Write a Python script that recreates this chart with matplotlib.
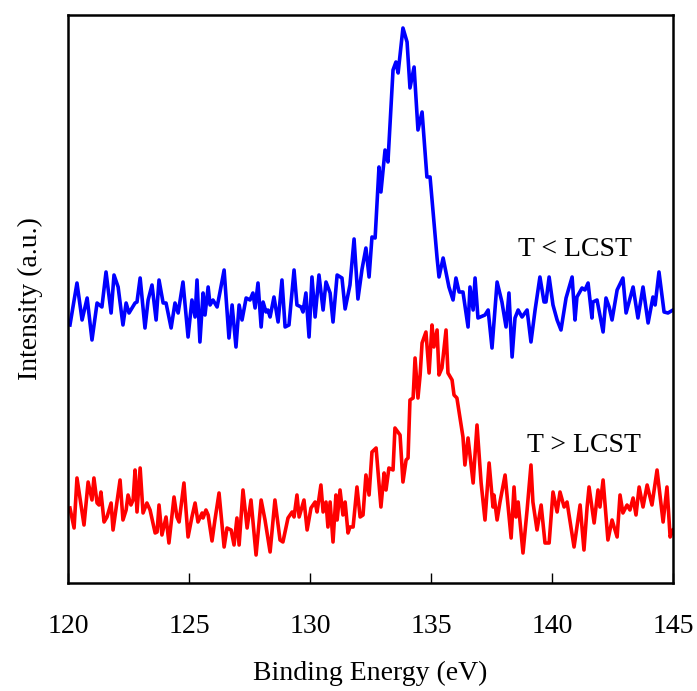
import numpy as np
import matplotlib
matplotlib.use('Agg')
import matplotlib.pyplot as plt

# T < LCST spectrum (blue)
be_low = [120.08, 120.37, 120.58, 120.79, 120.99, 121.20, 121.40, 121.57, 121.78, 121.90,
          122.07, 122.27, 122.40, 122.52, 122.77, 122.85, 122.98, 123.18, 123.31, 123.47,
          123.64, 123.76, 123.93, 124.05, 124.26, 124.42, 124.55, 124.75, 124.96, 125.12,
          125.25, 125.33, 125.45, 125.58, 125.66, 125.79, 125.87, 125.99, 126.16, 126.28,
          126.45, 126.65, 126.78, 126.94, 127.07, 127.19, 127.36, 127.52, 127.64, 127.73,
          127.85, 127.98, 128.06, 128.18, 128.26, 128.35, 128.51, 128.68, 128.84, 128.97,
          129.13, 129.34, 129.46, 129.63, 129.71, 129.83, 129.96, 130.08, 130.21, 130.37,
          130.54, 130.66, 130.83, 130.95, 131.12, 131.32, 131.45, 131.65, 131.82, 131.98,
          132.15, 132.31, 132.44, 132.56, 132.69, 132.85, 132.93, 133.10, 133.22, 133.43,
          133.55, 133.64, 133.84, 134.01, 134.13, 134.30, 134.46, 134.63, 134.83, 134.96,
          135.25, 135.33, 135.50, 135.74, 135.91, 136.03, 136.16, 136.32, 136.53, 136.61,
          136.74, 136.82, 136.94, 137.23, 137.36, 137.52, 137.73, 137.93, 138.10, 138.22,
          138.35, 138.47, 138.60, 138.76, 138.97, 139.13, 139.30, 139.50, 139.67, 139.75,
          139.88, 140.04, 140.21, 140.37, 140.58, 140.83, 140.95, 141.03, 141.24, 141.36,
          141.49, 141.65, 141.69, 141.86, 142.11, 142.23, 142.36, 142.48, 142.69, 142.93,
          143.06, 143.35, 143.55, 143.76, 143.97, 144.17, 144.26, 144.42, 144.63, 144.79,
          145.00]
int_low = [258, 300, 263, 285, 243, 280, 276, 311, 270, 308,
           296, 258, 280, 270, 280, 281, 305, 255, 283, 298,
           263, 303, 280, 280, 255, 280, 270, 301, 246, 283,
           266, 303, 241, 290, 268, 296, 278, 283, 276, 291,
           313, 245, 278, 236, 278, 263, 285, 283, 290, 275,
           300, 256, 281, 271, 273, 266, 286, 261, 303, 256,
           258, 313, 278, 276, 271, 290, 246, 306, 266, 308,
           273, 301, 290, 261, 308, 305, 274, 298, 344, 284,
           314, 335, 306, 346, 345, 416, 391, 433, 421, 513,
           521, 510, 555, 541, 495, 516, 453, 471, 406, 406,
           325, 306, 325, 296, 283, 305, 291, 291, 256, 296,
           273, 305, 265, 268, 273, 235, 301, 281, 256, 290,
           226, 265, 273, 266, 273, 241, 273, 306, 281, 281,
           306, 278, 263, 253, 285, 306, 263, 286, 295, 293,
           300, 265, 281, 283, 251, 285, 276, 263, 293, 305,
           270, 296, 265, 296, 260, 286, 278, 311, 271, 270,
           273]

# T > LCST spectrum (red)
be_high = [120.08, 120.25, 120.37, 120.66, 120.83, 120.99, 121.07, 121.20, 121.28, 121.36,
           121.49, 121.61, 121.78, 121.86, 122.02, 122.15, 122.27, 122.40, 122.48, 122.60,
           122.69, 122.77, 122.85, 122.98, 123.10, 123.26, 123.39, 123.60, 123.68, 123.76,
           123.88, 124.05, 124.17, 124.38, 124.50, 124.59, 124.79, 124.96, 125.12, 125.25,
           125.37, 125.54, 125.58, 125.70, 125.79, 125.95, 126.07, 126.24, 126.45, 126.57,
           126.74, 126.86, 126.98, 127.07, 127.23, 127.40, 127.56, 127.77, 127.98, 128.14,
           128.35, 128.55, 128.76, 128.88, 129.09, 129.26, 129.34, 129.46, 129.55, 129.75,
           129.88, 130.04, 130.21, 130.29, 130.45, 130.54, 130.66, 130.74, 130.83, 130.95,
           131.07, 131.12, 131.24, 131.36, 131.45, 131.57, 131.65, 131.78, 131.94, 132.07,
           132.19, 132.31, 132.44, 132.56, 132.73, 132.93, 133.06, 133.14, 133.26, 133.43,
           133.51, 133.72, 133.84, 133.97, 134.05, 134.13, 134.26, 134.34, 134.46, 134.55,
           134.63, 134.79, 134.92, 135.04, 135.12, 135.25, 135.33, 135.45, 135.62, 135.70,
           135.87, 135.95, 136.07, 136.24, 136.32, 136.40, 136.53, 136.74, 136.90, 137.07,
           137.23, 137.40, 137.56, 137.60, 137.73, 137.85, 138.06, 138.31, 138.43, 138.51,
           138.60, 138.80, 138.97, 139.13, 139.21, 139.38, 139.55, 139.71, 139.88, 140.04,
           140.21, 140.33, 140.50, 140.62, 140.91, 141.16, 141.32, 141.45, 141.53, 141.74,
           141.90, 141.98, 142.11, 142.31, 142.48, 142.69, 142.81, 142.93, 143.10, 143.22,
           143.35, 143.47, 143.60, 143.76, 143.93, 144.13, 144.34, 144.59, 144.75, 144.88,
           145.00]
int_high = [75, 55, 105, 58, 101, 83, 105, 80, 78, 91,
            61, 66, 80, 53, 81, 103, 63, 73, 88, 78,
            83, 113, 71, 115, 70, 80, 73, 50, 51, 78,
            48, 66, 40, 86, 66, 61, 100, 46, 66, 80,
            61, 70, 65, 73, 68, 42, 63, 90, 36, 55,
            53, 38, 65, 38, 93, 55, 83, 28, 83, 63,
            31, 83, 43, 41, 65, 71, 66, 88, 66, 83,
            53, 75, 81, 71, 98, 71, 81, 56, 81, 41,
            88, 63, 93, 68, 81, 50, 56, 56, 96, 66,
            68, 108, 88, 131, 135, 76, 110, 93, 115, 113,
            155, 148, 101, 123, 125, 183, 185, 225, 185, 208,
            240, 251, 210, 258, 236, 253, 208, 215, 253, 210,
            203, 188, 185, 158, 146, 118, 145, 100, 158, 100,
            63, 120, 76, 88, 63, 81, 108, 45, 96, 66,
            81, 30, 73, 118, 81, 53, 78, 40, 40, 91,
            71, 91, 76, 81, 36, 78, 33, 76, 96, 60,
            93, 76, 103, 43, 63, 46, 88, 70, 78, 73,
            85, 68, 96, 76, 98, 78, 113, 61, 96, 46,
            53]

plt.rcParams['font.family'] = ['Liberation Serif', 'DejaVu Serif']

fig = plt.figure(figsize=(6.97, 6.91), dpi=100)
ax = fig.add_axes([0.0976, 0.1563, 0.868, 0.822])

ax.plot(be_low, int_low, color='#0000ff', lw=2.6, solid_joinstyle='round')
ax.plot(be_high, int_high, color='#ff0000', lw=2.6, solid_joinstyle='round')

ax.text(140.95, 333, 'T < LCST', fontsize=20, ha='center', va='center')
ax.text(141.32, 137, 'T > LCST', fontsize=20, ha='center', va='center')

ax.set_xlim(120, 145)
ax.set_ylim(0, 568)
ax.set_xticks([120, 125, 130, 135, 140, 145])
ax.set_yticks([])
ax.tick_params(axis='x', direction='in', length=7, width=1, pad=22, labelsize=20)
for s in ax.spines.values():
    s.set_linewidth(1.8)

ax.set_xlabel('Binding Energy (eV)', fontsize=20, labelpad=16)
ax.set_ylabel('Intensity (a.u.)', fontsize=20, labelpad=18)

fig.savefig('out.png', dpi=100)
